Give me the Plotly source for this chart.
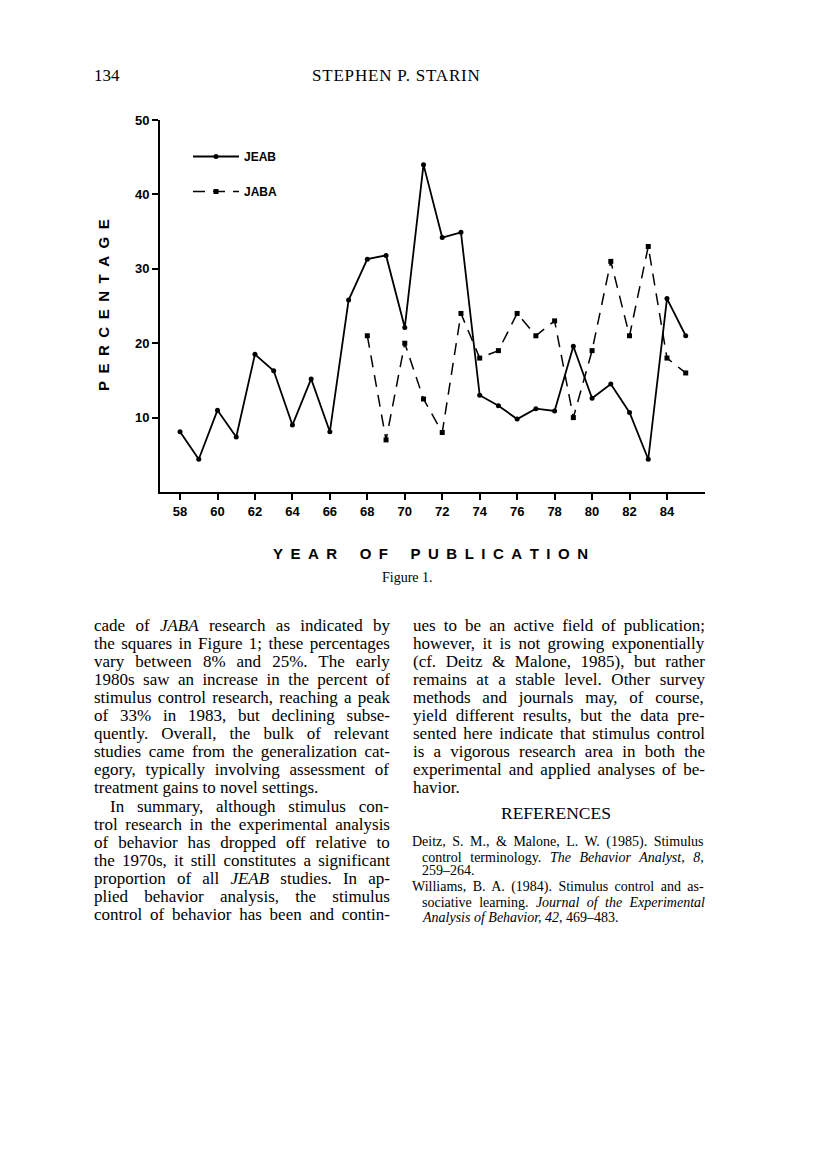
import re
import plotly.graph_objects as go

# ---------------- data ----------------
years = list(range(58, 86))
jeab = [8.1, 4.4, 11.0, 7.4, 18.5, 16.3, 9.0, 15.2, 8.1, 25.8, 31.3, 31.8, 22.1, 44.0,
        34.2, 34.9, 13.0, 11.6, 9.8, 11.2, 10.9, 19.6, 12.6, 14.5, 10.7, 4.4, 26.0, 21.0]
jaba_years = list(range(68, 86))
jaba = [21.0, 7.0, 20.0, 12.5, 8.0, 24.0, 18.0, 19.0, 24.0, 21.0, 23.0, 10.0, 19.0,
        31.0, 21.0, 33.0, 18.0, 16.0]
x_ticks = list(range(58, 86, 2))
y_ticks = [10, 20, 30, 40, 50]

left_col = [
    "cade of <i>JABA</i> research as indicated by",
    "the squares in Figure 1; these percentages",
    "vary between 8% and 25%. The early",
    "1980s saw an increase in the percent of",
    "stimulus control research, reaching a peak",
    "of 33% in 1983, but declining subse-",
    "quently. Overall, the bulk of relevant",
    "studies came from the generalization cat-",
    "egory, typically involving assessment of",
    "treatment gains to novel settings.",
    "In summary, although stimulus con-",
    "trol research in the experimental analysis",
    "of behavior has dropped off relative to",
    "the 1970s, it still constitutes a significant",
    "proportion of all <i>JEAB</i> studies. In ap-",
    "plied behavior analysis, the stimulus",
    "control of behavior has been and contin-",
]
right_col = [
    "ues to be an active field of publication;",
    "however, it is not growing exponentially",
    "(cf. Deitz &amp; Malone, 1985), but rather",
    "remains at a stable level. Other survey",
    "methods and journals may, of course,",
    "yield different results, but the data pre-",
    "sented here indicate that stimulus control",
    "is a vigorous research area in both the",
    "experimental and applied analyses of be-",
    "havior.",
]
refs = [
    "Deitz, S. M., &amp; Malone, L. W. (1985). Stimulus",
    "control terminology. <i>The Behavior Analyst, 8,</i>",
    "259–264.",
    "Williams, B. A. (1984). Stimulus control and as-",
    "sociative learning. <i>Journal of the Experimental</i>",
    "<i>Analysis of Behavior, 42,</i> 469–483.",
]

# ---------------- page geometry (browser page pixels) ----------------
OFF = 8                      # default body margin of the html page
L, R, T, B = 160, 705, 120, 492
W, H = 816 - OFF, 1176 - OFF


def px(x):
    return (x - L) / (R - L)


def py(y):
    return (B - y) / (B - T)


SANS = "Liberation Sans, Arial, sans-serif"
SERIF = "Liberation Serif, Times New Roman, serif"

# Times metrics (1/1000 em) used to justify the text columns
_rom = {' ': 250, '!': 333, '%': 833, '&': 778, "'": 333, '(': 333, ')': 333, ',': 250,
        '-': 333, '.': 250, ':': 278, ';': 278, '?': 444, '–': 500,
        'A': 722, 'B': 667, 'C': 667, 'D': 722, 'E': 611, 'F': 556, 'G': 722, 'H': 722,
        'I': 333, 'J': 389, 'K': 722, 'L': 611, 'M': 889, 'N': 722, 'O': 722, 'P': 556,
        'Q': 722, 'R': 667, 'S': 556, 'T': 611, 'U': 722, 'V': 722, 'W': 944, 'X': 722,
        'Y': 722, 'Z': 611, 'a': 444, 'b': 500, 'c': 444, 'd': 500, 'e': 444, 'f': 333,
        'g': 500, 'h': 500, 'i': 278, 'j': 278, 'k': 500, 'l': 278, 'm': 778, 'n': 500,
        'o': 500, 'p': 500, 'q': 500, 'r': 333, 's': 389, 't': 278, 'u': 500, 'v': 500,
        'w': 722, 'x': 500, 'y': 500, 'z': 444}
_ita = dict(_rom)
_ita.update({'A': 611, 'B': 611, 'C': 667, 'D': 722, 'E': 611, 'F': 611, 'J': 444,
             'K': 667, 'L': 556, 'M': 833, 'N': 667, 'P': 611, 'R': 611, 'S': 500,
             'T': 556, 'V': 611, 'W': 833, 'Y': 556, 'a': 500, 'f': 278, 'k': 444,
             'm': 722, 'r': 389, 'v': 444, 'w': 667, 'x': 444, 'y': 444, 'z': 389})
for d in '0123456789':
    _rom[d] = 500
    _ita[d] = 500


def text_width(s, size):
    s = s.replace("&amp;", "&")
    total, italic = 0, False
    for part in re.split(r"(<i>|</i>)", s):
        if part == "<i>":
            italic = True
        elif part == "</i>":
            italic = False
        else:
            tab = _ita if italic else _rom
            total += sum(tab.get(c, 500) for c in part)
    return total * size / 1000.0


def justify(s, size, width):
    plain = re.sub(r"<[^>]+>", "", s)
    n = plain.count(" ")
    if n == 0:
        return s
    ws = (width - text_width(s, size)) / n
    return '<span style="word-spacing:%.2fpx">%s</span>' % (ws, s)


fig = go.Figure()
fig.add_trace(go.Scatter(
    x=years, y=jeab, name="JEAB", mode="lines+markers", legendgroup="a",
    line=dict(color="black", width=1.8),
    marker=dict(symbol="circle", size=5, color="black"),
))
fig.add_trace(go.Scatter(
    x=jaba_years, y=jaba, name="JABA", mode="lines+markers", legendgroup="b",
    line=dict(color="black", width=1.5, dash="12px,8px"),
    marker=dict(symbol="square", size=5, color="black"),
))

annotations = []
sp = "\u2002"


def spaced(word_list):
    return (sp * 3).join(sp.join(list(w)) for w in word_list)


def ann(text, x, y, size, family, xanchor="left", **kw):
    d = dict(text=text, x=px(x), y=py(y), xref="paper", yref="paper", showarrow=False,
             xanchor=xanchor, yanchor="middle",
             font=dict(family=family, size=size, color="black", **kw))
    annotations.append(d)


ann(spaced(["YEAR", "OF", "PUBLICATION"]), 430, 553, 15, SANS, "center", weight="bold")
annotations.append(dict(text=spaced(["PERCENTAGE"]), x=px(103), y=py(305), textangle=-90,
                        xref="paper", yref="paper", showarrow=False, xanchor="center",
                        yanchor="middle", font=dict(family=SANS, size=15, color="black", weight="bold")))
ann("Figure 1.", 407, 577, 14, SERIF, "center")
ann("134", 92, 75, 17, SERIF)
ann('<span style="letter-spacing:0.8px">STEPHEN P. STARIN</span>', 396, 75, 17, SERIF, "center")

BODY = 17
pitch = 18.1
for i, line in enumerate(left_col):
    x0 = 108 if i == 10 else 92
    txt = line if i == 9 else justify(line, BODY, 388 - x0)
    ann(txt, x0, 625 + i * pitch, BODY, SERIF)
for i, line in enumerate(right_col):
    txt = line if i == len(right_col) - 1 else justify(line, BODY, 703 - 411)
    ann(txt, 411, 625 + i * pitch, BODY, SERIF)

ann("REFERENCES", 556, 813, 17.5, SERIF, "center")
REF = 14
ref_y = [842, 857, 871, 887, 902, 917]
for i, line in enumerate(refs):
    x0 = 410 if i in (0, 3) else 420
    txt = line if i in (2, 5) else justify(line, REF, 703 - x0)
    ann(txt, x0, ref_y[i], REF, SERIF)

fig.update_layout(
    width=W, height=H, autosize=False,
    margin=dict(l=L - OFF, r=W - (R - OFF), t=T - OFF, b=H - (B - OFF), pad=0),
    paper_bgcolor="white", plot_bgcolor="white",
    showlegend=True,
    legend=dict(x=px(188), y=py(142), xanchor="left", yanchor="top",
                bgcolor="rgba(0,0,0,0)", itemwidth=46, tracegroupgap=16,
                traceorder="grouped",
                font=dict(family=SANS, size=12, color="black", weight="bold")),
    xaxis=dict(range=[56.93, 86.03], tickvals=x_ticks, showgrid=False, zeroline=False,
               showline=True, linecolor="black", linewidth=2, ticks="outside",
               ticklen=6, tickwidth=1.5, tickcolor="black",
               tickfont=dict(family=SANS, size=13, color="black", weight="bold")),
    yaxis=dict(range=[0, 50], tickvals=y_ticks, showgrid=False, zeroline=False,
               showline=True, linecolor="black", linewidth=2, ticks="outside",
               ticklen=6, tickwidth=1.5, tickcolor="black",
               tickfont=dict(family=SANS, size=13, color="black", weight="bold")),
    annotations=annotations,
)

fig.write_html("out.html")
